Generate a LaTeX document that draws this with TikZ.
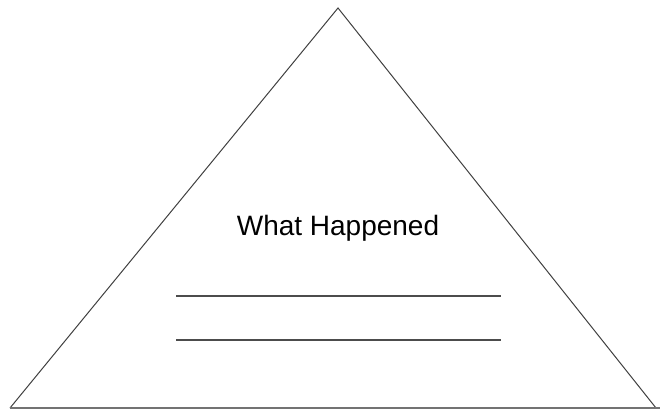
\documentclass[tikz,border=0pt]{standalone}
\usepackage{fontspec}
\setmainfont{Liberation Sans}
\begin{document}
\begin{tikzpicture}[x=1pt,y=-1pt,
  edge/.style={draw=black!75, line width=1pt},
  rule/.style={draw=black!70, line width=1.4pt},
  label/.style={font=\fontsize{28}{30}\selectfont, inner sep=0pt, anchor=base}]
\path[use as bounding box] (0,0) rectangle (660,414);
\coordinate (apex) at (338,8);
\coordinate (bl) at (10,408);
\coordinate (br) at (656,408);
\coordinate (bend) at (660,408);
\draw[edge] (bl) -- (apex) -- (br);
\draw[edge, draw=black!55, line width=1.4pt] (bl) -- (bend);
\node[label] (title) at (338,235) {What Happened};
\coordinate (l1a) at (176,296);
\coordinate (l1b) at (501,296);
\coordinate (l2a) at (176,340);
\coordinate (l2b) at (501,340);
\draw[rule] (l1a) -- (l1b);
\draw[rule] (l2a) -- (l2b);
\end{tikzpicture}
\end{document}
